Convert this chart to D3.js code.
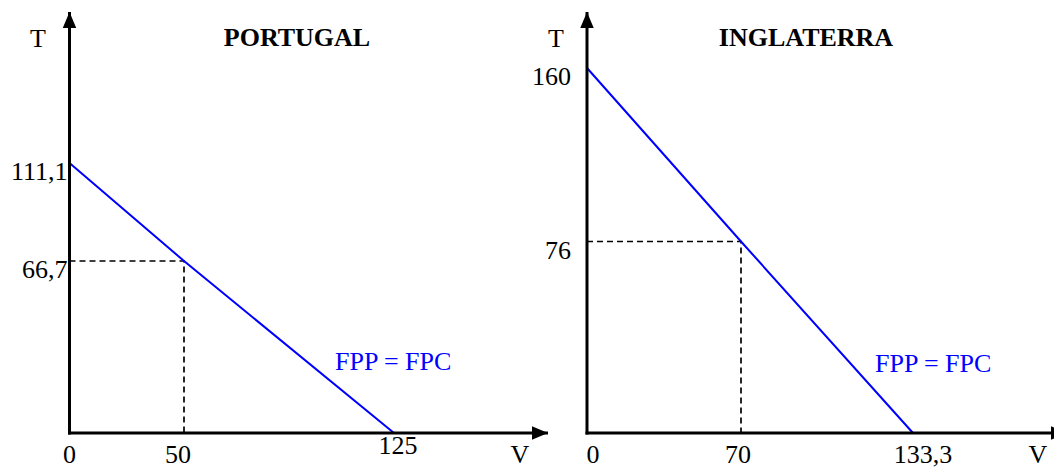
<!DOCTYPE html>
<html>
<head>
<meta charset="utf-8">
<script src="https://cdn.jsdelivr.net/npm/d3@7"></script>
<style>
  html, body { margin: 0; padding: 0; background: #fff; }
  svg { display: block; }
  text { font-family: "Liberation Serif", "Times New Roman", serif; }
</style>
</head>
<body>
<svg id="chart" width="1054" height="470"></svg>
<script>
// ---- data ----
const panelTitles   = ["PORTUGAL", "INGLATERRA"];
const yIntercepts   = [111.1, 160];     // T when V = 0
const xIntercepts   = [125, 133.3];     // V when T = 0
const pointV        = [50, 70];         // chosen V
const pointT        = [66.7, 76];       // chosen T
const yTickLabels   = [["111,1", "66,7"], ["160", "76"]];
const xTickLabels   = [["0", "50", "125"], ["0", "70", "133,3"]];
const xAxisLabel    = "V";
const yAxisLabel    = "T";
const curveLabel    = "FPP = FPC";

// ---- layout (schematic, not to scale in the original) ----
const layout = [
  { xr: [69.5, 184, 394], yr: [433, 261, 163], arrowX: 548,
    tLabelX: 38, titleX: 297, yLabGap: 2, xLabDy: [30, 30, 21], vX: 520, fppX: 335, fppY: 370 },
  { xr: [587, 741, 913], yr: [433, 241.5, 68], arrowX: 1067,
    tLabelX: 556, titleX: 806, yLabGap: 16, xLabDy: [30, 30, 30], vX: 1038, fppX: 875, fppY: 372 }
];
const arrowTop = 12;
const fontSize = 26;

const svg = d3.select("#chart");

svg.append("defs").append("marker")
  .attr("id", "arrow")
  .attr("viewBox", "0 0 10 10")
  .attr("refX", 10).attr("refY", 5)
  .attr("markerWidth", 16).attr("markerHeight", 16)
  .attr("markerUnits", "userSpaceOnUse")
  .attr("orient", "auto")
  .append("path")
  .attr("d", "M0,0.8 L10,5 L0,9.2 Z")
  .attr("fill", "#000");

panelTitles.forEach((title, i) => {
  const L = layout[i];
  const x = d3.scaleLinear().domain([0, pointV[i], xIntercepts[i]]).range(L.xr);
  const y = d3.scaleLinear().domain([0, pointT[i], yIntercepts[i]]).range(L.yr);
  const g = svg.append("g");

  // dashed guides
  const guide = d3.line().x(d => x(d[0])).y(d => y(d[1]));
  g.append("path")
    .attr("d", guide([[0, pointT[i]], [pointV[i], pointT[i]], [pointV[i], 0]]))
    .attr("fill", "none").attr("stroke", "#000")
    .attr("stroke-width", 1.7).attr("stroke-dasharray", "6,4");

  // FPP = FPC line
  g.append("path")
    .attr("d", guide([[0, yIntercepts[i]], [pointV[i], pointT[i]], [xIntercepts[i], 0]]))
    .attr("fill", "none").attr("stroke", "#0000ff").attr("stroke-width", 2);

  // axes with arrows
  g.append("line")
    .attr("x1", x(0)).attr("y1", y(0) + 1.5).attr("x2", x(0)).attr("y2", arrowTop)
    .attr("stroke", "#000").attr("stroke-width", 3).attr("marker-end", "url(#arrow)");
  g.append("line")
    .attr("x1", x(0) - 1.5).attr("y1", y(0)).attr("x2", L.arrowX).attr("y2", y(0))
    .attr("stroke", "#000").attr("stroke-width", 3).attr("marker-end", "url(#arrow)");

  // y tick labels
  const yVals = [yIntercepts[i], pointT[i]];
  g.selectAll(".ylab").data(yVals).join("text")
    .attr("x", x(0) - L.yLabGap)
    .attr("y", d => y(d) + 17)
    .attr("text-anchor", "end")
    .attr("font-size", fontSize)
    .text((d, j) => yTickLabels[i][j]);

  // x tick labels
  const xVals = [0, pointV[i], xIntercepts[i]];
  const xShift = i === 0 ? [0, -6, 4] : [6, -3, 10];
  g.selectAll(".xlab").data(xVals).join("text")
    .attr("x", (d, j) => x(d) + xShift[j])
    .attr("y", (d, j) => y(0) + L.xLabDy[j])
    .attr("text-anchor", "middle")
    .attr("font-size", fontSize)
    .text((d, j) => xTickLabels[i][j]);

  // axis labels
  g.append("text").attr("x", L.tLabelX).attr("y", 47)
    .attr("text-anchor", "middle").attr("font-size", fontSize).text(yAxisLabel);
  g.append("text").attr("x", L.vX).attr("y", y(0) + 30)
    .attr("text-anchor", "middle").attr("font-size", fontSize).text(xAxisLabel);

  // title
  g.append("text").attr("x", L.titleX).attr("y", 46)
    .attr("text-anchor", "middle").attr("font-size", fontSize)
    .attr("font-weight", "bold").text(title);

  // curve label
  g.append("text").attr("x", L.fppX).attr("y", L.fppY)
    .attr("font-size", fontSize).attr("fill", "#0000ff").text(curveLabel);
});
</script>
</body>
</html>
